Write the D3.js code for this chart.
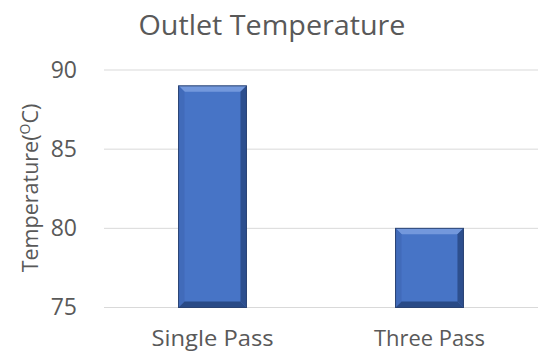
<!DOCTYPE html>
<html>
<head>
<meta charset="utf-8">
<script src="https://cdn.jsdelivr.net/npm/d3@7"></script>
<style>
  html, body { margin: 0; padding: 0; background: #ffffff; }
  svg { display: block; }
</style>
</head>
<body>
<script>
// Outlet temperature by pass configuration
const categories = ["Single Pass", "Three Pass"];
const temperatures = [89, 80];
const yTicks = [75, 80, 85, 90];
const chartTitle = "Outlet Temperature";

const W = 540, H = 356;
const font = "'Open Sans', sans-serif";
const textColor = "#595959";

const svg = d3.select("body").append("svg")
  .attr("width", W).attr("height", H);

const x = d3.scaleBand()
  .domain(categories)
  .range([104, 538])
  .paddingInner(0.687)
  .paddingOuter(0.3435);

const y = d3.scaleLinear()
  .domain([75, 90])
  .range([307.5, 70]);

// Horizontal gridlines
svg.append("g")
  .selectAll("line")
  .data(yTicks)
  .join("line")
  .attr("x1", 104).attr("x2", 538)
  .attr("y1", d => y(d)).attr("y2", d => y(d))
  .attr("stroke", "#d9d9d9").attr("stroke-width", 1);

// Y axis labels
const yAxis = d3.axisLeft(y).tickValues(yTicks).tickSize(0).tickPadding(0);
const gy = svg.append("g").attr("transform", "translate(77,0)").call(yAxis);
gy.select(".domain").remove();
gy.selectAll("text")
  .attr("font-family", font).attr("font-size", 23)
  .attr("fill", textColor);

// X axis labels, stretched slightly to the wide label face
const xAxis = d3.axisBottom(x).tickSize(0).tickPadding(0);
const gx = svg.append("g").attr("transform", "translate(0,331)").call(xAxis);
gx.select(".domain").remove();
gx.selectAll("text")
  .attr("font-family", font).attr("font-size", 21.5)
  .attr("textLength", d => d.length * 11.1)
  .attr("lengthAdjust", "spacingAndGlyphs")
  .attr("fill", textColor);

// Bars with a bevelled edge
const bev = 6;
const bars = svg.append("g").selectAll("g")
  .data(categories.map((c, i) => ({ c, v: temperatures[i] })))
  .join("g");

bars.each(function(d) {
  const g = d3.select(this);
  const x0 = x(d.c), x1 = x0 + x.bandwidth();
  const y0 = y(d.v), y1 = y(75);
  g.append("rect")
    .attr("x", x0).attr("y", y0)
    .attr("width", x1 - x0).attr("height", y1 - y0)
    .attr("fill", "#4774c6");
  const poly = (pts, fill) => g.append("polygon")
    .attr("points", pts.map(p => p.join(",")).join(" "))
    .attr("fill", fill);
  // top
  poly([[x0, y0], [x1, y0], [x1 - bev, y0 + bev], [x0 + bev, y0 + bev]], "#7398dc");
  // left
  poly([[x0, y0], [x0 + bev, y0 + bev], [x0 + bev, y1 - bev], [x0, y1]], "#416bba");
  // right
  poly([[x1, y0], [x1, y1], [x1 - bev, y1 - bev], [x1 - bev, y0 + bev]], "#2d4f8e");
  // bottom
  poly([[x0, y1], [x1, y1], [x1 - bev, y1 - bev], [x0 + bev, y1 - bev]], "#294a86");
  g.append("rect")
    .attr("x", x0).attr("y", y0)
    .attr("width", x1 - x0).attr("height", y1 - y0)
    .attr("fill", "none").attr("stroke", "#2a4373").attr("stroke-width", 1);
});

// Title
svg.append("text")
  .attr("x", 272).attr("y", 35)
  .attr("text-anchor", "middle")
  .attr("font-family", font).attr("font-size", 27)
  .attr("textLength", 267).attr("lengthAdjust", "spacingAndGlyphs")
  .attr("fill", textColor)
  .text(chartTitle);

// Y axis title with superscript degree symbol
const yt = svg.append("text")
  .attr("transform", "translate(38,188) rotate(-90)")
  .attr("text-anchor", "middle")
  .attr("font-family", font).attr("font-size", 21.5)
  .attr("fill", textColor);
yt.append("tspan").text("Temperature(");
yt.append("tspan").attr("font-size", 14).attr("dy", -8).text("O");
yt.append("tspan").attr("dy", 8).text("C)");
</script>
</body>
</html>
